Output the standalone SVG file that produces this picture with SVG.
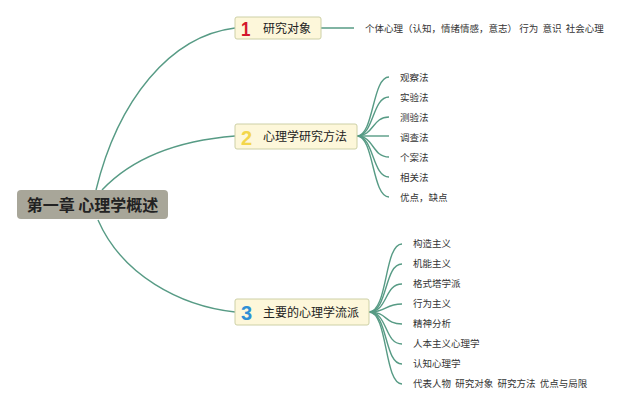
<svg xmlns="http://www.w3.org/2000/svg" width="640" height="410" viewBox="0 0 640 410">
<style>
.ln{fill:none;stroke:#579b85;stroke-width:1.4}
.box{fill:#fdf7da;stroke:#cdd0a6;stroke-width:1}
.t{font-family:"Noto Sans CJK SC","Noto Sans",sans-serif;fill:#222}
.lt{font-family:"Noto Sans CJK SC","Noto Sans",sans-serif;fill:#333;font-size:9.5px;white-space:pre}
.num{font-family:"Liberation Sans","Noto Sans",sans-serif;font-weight:bold;font-size:20px}
</style>
<rect width="640" height="410" fill="#ffffff"/>
<g id="connectors">
<path class="ln" d="M96,190 C118,100 170,36 235,28"/>
<path class="ln" d="M102,190 C135,155 185,140 235,136"/>
<path class="ln" d="M98,220 C122,275 180,306 235,312"/>
<path class="ln" d="M321,28 H354"/>
<path class="ln" d="M357,136 C374,136 372,77 389,77"/>
<path class="ln" d="M357,136 C374,136 372,97 389,97"/>
<path class="ln" d="M357,136 C374,136 372,117 389,117"/>
<path class="ln" d="M357,136 H389"/>
<path class="ln" d="M357,136 C374,136 372,157 389,157"/>
<path class="ln" d="M357,136 C374,136 372,177 389,177"/>
<path class="ln" d="M357,136 C374,136 372,197 389,197"/>
<path class="ln" d="M369,312 C388,312 384,244 402,244"/>
<path class="ln" d="M369,312 C388,312 384,264 402,264"/>
<path class="ln" d="M369,312 C388,312 384,284 402,284"/>
<path class="ln" d="M369,312 C388,312 384,304 402,304"/>
<path class="ln" d="M369,312 C388,312 384,324 402,324"/>
<path class="ln" d="M369,312 C388,312 384,344 402,344"/>
<path class="ln" d="M369,312 C388,312 384,364 402,364"/>
<path class="ln" d="M369,312 C388,312 384,384 402,384"/>
</g>
<g id="root">
<rect x="17" y="190" width="151" height="29" rx="4" fill="#a8a699"/>
<text class="t" x="92.5" y="210.5" text-anchor="middle" font-size="16" font-weight="bold" fill="#1a1a1a">第一章 心理学概述</text>
</g>
<g id="n1">
<rect class="box" x="235" y="17" width="86" height="22" rx="2"/>
<text class="num" x="241" y="36" fill="#d3162c" transform="translate(241,0) scale(0.85,1) translate(-241,0)">1</text>
<text class="t" x="263" y="33" font-size="12">研究对象</text>
</g>
<g id="n1a">
<text class="lt" x="365" y="31.5" font-size="9.2">个体心理（认知，情绪情感，意志） 行为  意识  社会心理</text>
</g>
<g id="n2">
<rect class="box" x="235" y="124" width="122" height="25" rx="2"/>
<text class="num" x="241" y="144.5" fill="#f3d64b">2</text>
<text class="t" x="263" y="141" font-size="12">心理学研究方法</text>
</g>
<g id="n2a"><text class="lt" x="400" y="81">观察法</text></g>
<g id="n2b"><text class="lt" x="400" y="101">实验法</text></g>
<g id="n2c"><text class="lt" x="400" y="121">测验法</text></g>
<g id="n2d"><text class="lt" x="400" y="141">调查法</text></g>
<g id="n2e"><text class="lt" x="400" y="161">个案法</text></g>
<g id="n2f"><text class="lt" x="400" y="181">相关法</text></g>
<g id="n2g"><text class="lt" x="400" y="201">优点，缺点</text></g>
<g id="n3">
<rect class="box" x="235" y="299" width="134" height="26" rx="2"/>
<text class="num" x="241" y="320" fill="#2e8fd6">3</text>
<text class="t" x="263" y="316.5" font-size="12">主要的心理学流派</text>
</g>
<g id="n3a"><text class="lt" x="413" y="247">构造主义</text></g>
<g id="n3b"><text class="lt" x="413" y="267">机能主义</text></g>
<g id="n3c"><text class="lt" x="413" y="287">格式塔学派</text></g>
<g id="n3d"><text class="lt" x="413" y="307">行为主义</text></g>
<g id="n3e"><text class="lt" x="413" y="327">精神分析</text></g>
<g id="n3f"><text class="lt" x="413" y="347">人本主义心理学</text></g>
<g id="n3g"><text class="lt" x="413" y="367">认知心理学</text></g>
<g id="n3h"><text class="lt" x="413" y="387">代表人物  研究对象  研究方法  优点与局限</text></g>
</svg>
